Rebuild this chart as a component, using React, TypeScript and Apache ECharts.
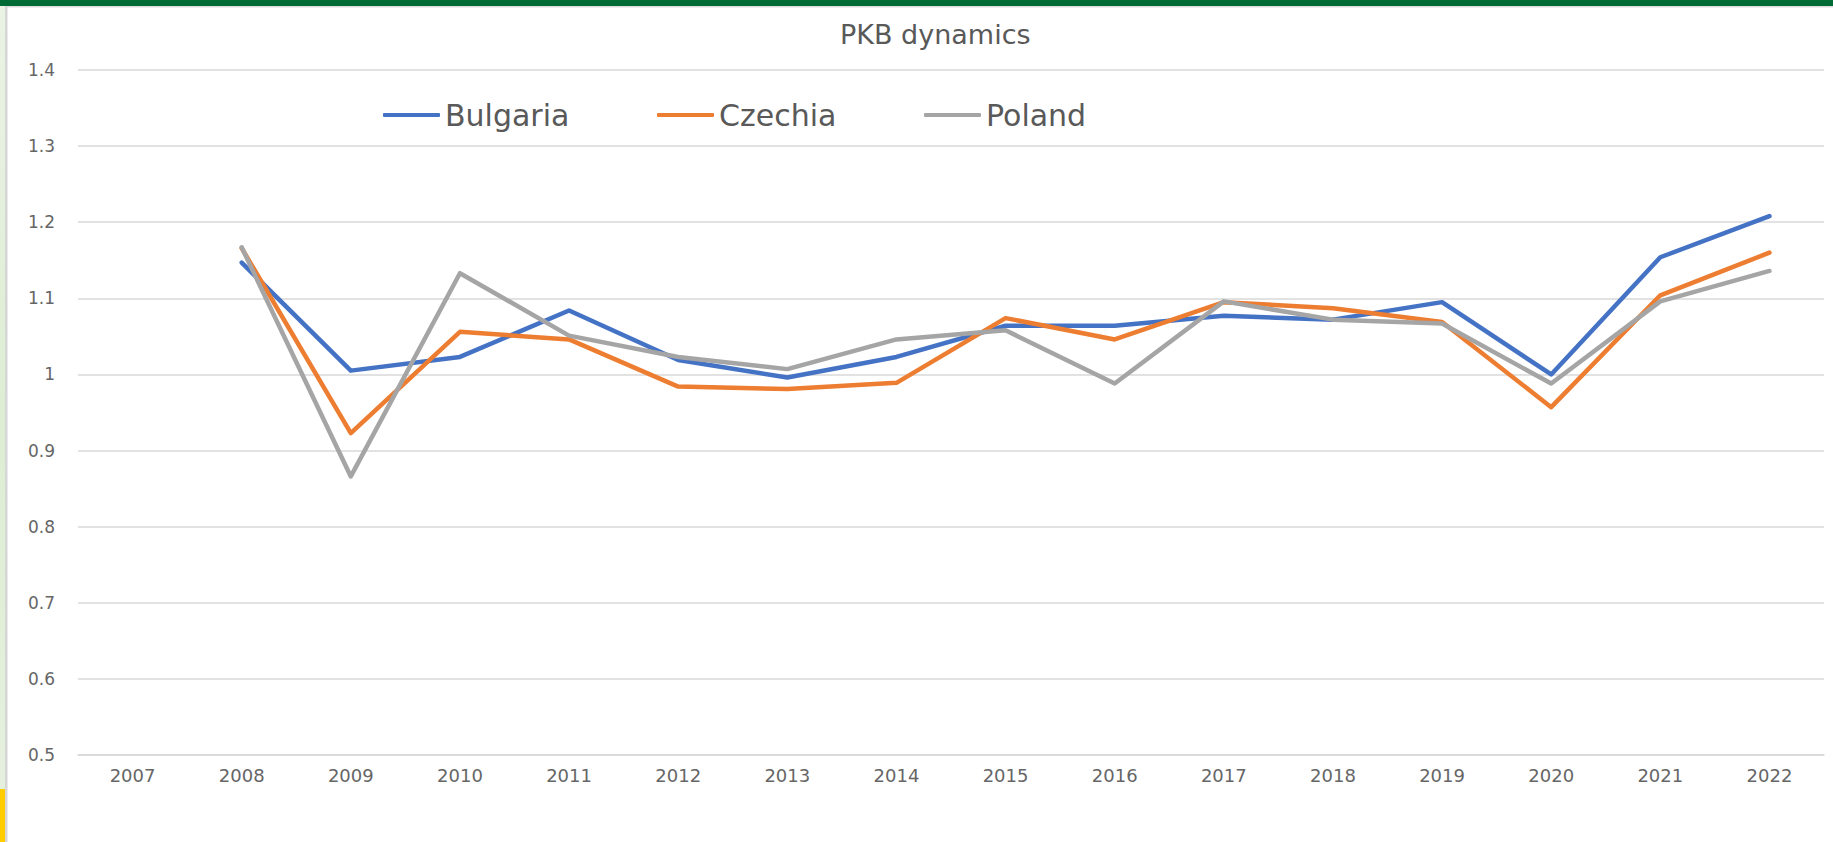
import React, { useEffect, useRef } from "react";
import * as echarts from "echarts";

const years = ["2007", "2008", "2009", "2010", "2011", "2012", "2013", "2014", "2015", "2016", "2017", "2018", "2019", "2020", "2021", "2022"];
const bulgaria = [null, 1.147, 1.005, 1.023, 1.084, 1.019, 0.996, 1.023, 1.064, 1.064, 1.077, 1.072, 1.095, 1.0, 1.154, 1.208];
const czechia = [null, 1.166, 0.923, 1.056, 1.046, 0.984, 0.981, 0.989, 1.074, 1.046, 1.095, 1.087, 1.069, 0.957, 1.104, 1.16];
const poland = [null, 1.167, 0.866, 1.133, 1.051, 1.023, 1.007, 1.046, 1.058, 0.988, 1.096, 1.072, 1.067, 0.988, 1.096, 1.136];
const seriesNames = ["Bulgaria", "Czechia", "Poland"];
const seriesColors = ["#4472C4", "#ED7D31", "#A5A5A5"];
const yMin = 0.5;
const yMax = 1.4;
const yStep = 0.1;
const titleText = "PKB dynamics";

const FONT = "DejaVu Sans";
const TEXT = "#595959";

export default function App() {
  const ref = useRef<HTMLDivElement>(null);
  useEffect(() => {
    if (!ref.current) return;
    const chart = echarts.init(ref.current, null, { renderer: "svg" });
    const data = [bulgaria, czechia, poland];
    const legendLefts = [378, 652, 919];
    const option: any = {
      animation: false,
      backgroundColor: "#ffffff",
      title: {
        text: titleText,
        left: 835,
        top: 16,
        textStyle: { fontFamily: FONT, fontSize: 27, fontWeight: "normal", color: TEXT },
      },
      legend: seriesNames.map((n, i) => ({
        data: [n],
        left: legendLefts[i],
        top: 95,
        icon: "roundRect",
        itemWidth: 57,
        itemHeight: 4,
        itemGap: 0,
        textStyle: { fontFamily: FONT, fontSize: 30, color: TEXT, padding: [0, 0, 0, 0] },
        selectedMode: false,
      })),
      grid: { left: 78, right: 9, top: 70, bottom: 87, containLabel: false },
      xAxis: {
        type: "category",
        data: years,
        boundaryGap: true,
        axisLine: { show: true, lineStyle: { color: "#D9D9D9", width: 1.5 } },
        axisTick: { show: false },
        axisLabel: { margin: 11, fontFamily: FONT, fontSize: 18, color: "#666666" },
      },
      yAxis: {
        type: "value",
        min: yMin,
        max: yMax,
        interval: yStep,
        axisLine: { show: false },
        axisTick: { show: false },
        splitLine: { lineStyle: { color: "#D9D9D9", width: 1.5 } },
        axisLabel: { margin: 23, fontFamily: FONT, fontSize: 17, color: "#666666" },
      },
      series: seriesNames.map((n, i) => ({
        name: n,
        type: "line",
        data: data[i],
        symbol: "none",
        showSymbol: false,
        connectNulls: false,
        itemStyle: { color: seriesColors[i] },
        lineStyle: { color: seriesColors[i], width: 4.5, cap: "round", join: "round" },
      })),
      graphic: [
        { type: "rect", left: 0, top: 0, shape: { x: 0, y: 0, width: 1833, height: 6 }, style: { fill: "#006B35" }, z: 10 },
        { type: "rect", left: 0, top: 6, shape: { x: 0, y: 0, width: 1833, height: 1.5 }, style: { fill: "#DDDDDD" }, z: 10 },
        { type: "rect", left: 0, top: 6, shape: { x: 0, y: 0, width: 5, height: 836 }, style: { fill: new echarts.graphic.LinearGradient(0, 0, 0, 1, [{ offset: 0, color: "#EAF3E4" }, { offset: 0.5, color: "#DDEDD3" }, { offset: 1, color: "#E6F1DF" }]) }, z: 10 },
        { type: "rect", left: 5, top: 6, shape: { x: 0, y: 0, width: 2.5, height: 836 }, style: { fill: "#D6D6D6" }, z: 10 },
        { type: "rect", left: 0, top: 789, shape: { x: 0, y: 0, width: 5, height: 53 }, style: { fill: "#FFCC00" }, z: 11 },
      ],
    };
    chart.setOption(option);
    return () => chart.dispose();
  }, []);
  return <div ref={ref} style={{ position: "fixed", left: 0, top: 0, width: 1833, height: 842 }} />;
}
